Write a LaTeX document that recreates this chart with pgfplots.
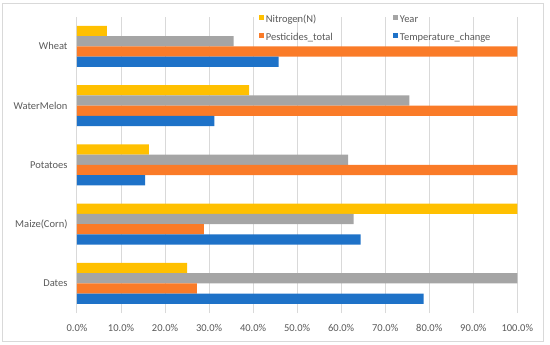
\documentclass[border=0pt]{standalone}
\usepackage{pgfplots}
\pgfplotsset{compat=1.18}
\usepackage{fontspec}
\setmainfont{Carlito}
\definecolor{cyel}{HTML}{FFC000}
\definecolor{cgray}{HTML}{A5A5A5}
\definecolor{corange}{HTML}{FA7B28}
\definecolor{cblue}{HTML}{1E72C8}
\definecolor{ctext}{HTML}{595959}
\definecolor{cgrid}{HTML}{D9D9D9}
\begin{document}
\begin{tikzpicture}
\path[use as bounding box] (-77bp,-32bp) rectangle (473bp,313bp);
\draw[cgrid, line width=1bp] (-74bp,-28bp) rectangle (466bp,309bp);
\begin{axis}[
  at={(0,0)}, anchor=south west,
  scale only axis, width=440.3bp, height=296.3bp,
  xbar, bar width=0.1725,
  xmin=0, xmax=100, ymin=-0.5, ymax=4.5,
  xtick={0,10,...,100},
  xticklabels={0.0\%,10.0\%,20.0\%,30.0\%,40.0\%,50.0\%,60.0\%,70.0\%,80.0\%,90.0\%,100.0\%},
  ytick={0,1,2,3,4},
  yticklabels={Dates,Maize(Corn),Potatoes,WaterMelon,Wheat},
  axis line style={draw=none},
  major tick length=0pt,
  xmajorgrids, grid style={cgrid, line width=1bp},
  font=\fontsize{10.5bp}{12bp}\selectfont\color{ctext},
  xticklabel style={anchor=center, yshift=-15bp},
  yticklabel style={anchor=east, xshift=-6bp},
  legend columns=2,
  legend cell align=left,
  legend style={at={(0.407,1.018)}, anchor=north west, draw=none, fill=none,
    font=\fontsize{10.5bp}{12bp}\selectfont\color{ctext},
    row sep=6bp, nodes={inner sep=1.5bp}},
  legend image code/.code={\fill[#1] (0bp,0bp) rectangle (5bp,5bp);},
]
\addplot[fill=cyel, draw=none, bar shift=0.259] coordinates {(6.8,4) (39.1,3) (16.3,2) (100,1) (25.0,0)};
\addlegendentry{\makebox[126bp][l]{Nitrogen(N)}}
\addplot[fill=cgray, draw=none, bar shift=0.086] coordinates {(35.6,4) (75.5,3) (61.6,2) (62.8,1) (100,0)};
\addlegendentry{Year}
\addplot[fill=corange, draw=none, bar shift=-0.086] coordinates {(100,4) (100,3) (100,2) (28.8,1) (27.2,0)};
\addlegendentry{\makebox[126bp][l]{Pesticides\_total}}
\addplot[fill=cblue, draw=none, bar shift=-0.259] coordinates {(45.8,4) (31.2,3) (15.5,2) (64.4,1) (78.7,0)};
\addlegendentry{Temperature\_change}
\end{axis}
\end{tikzpicture}
\end{document}
